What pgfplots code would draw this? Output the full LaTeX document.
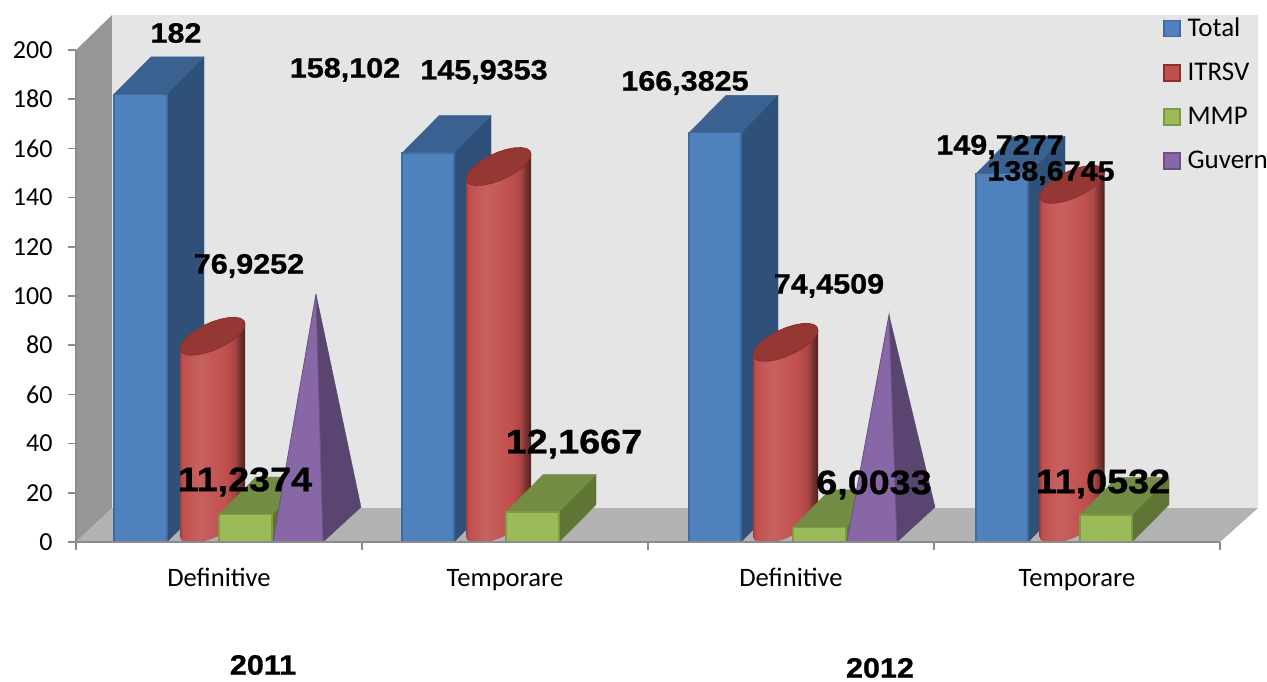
\documentclass[border=0pt]{standalone}
\usepackage{fontspec}
\usepackage{pgfplots}
\usepackage{pgfplotstable}
\pgfplotsset{compat=1.18}
\setmainfont{Carlito}
\newfontfamily\lab{Liberation Sans}[BoldFeatures={FakeBold=0.8}]
\definecolor{wallback}{HTML}{E5E5E5}
\definecolor{wallside}{HTML}{969696}
\definecolor{floorc}{HTML}{B2B2B2}
\definecolor{axisc}{HTML}{8C8C8C}
\definecolor{bf}{HTML}{4F81BD}\definecolor{be}{HTML}{3F6BA0}\definecolor{bs}{HTML}{2F5078}\definecolor{bt}{HTML}{3A6190}
\definecolor{rt}{HTML}{953735}\definecolor{re}{HTML}{8A302E}\definecolor{rf}{HTML}{C0504D}
\definecolor{gf}{HTML}{9BBB59}\definecolor{ge}{HTML}{7D9A45}\definecolor{gs}{HTML}{5F7536}\definecolor{gt}{HTML}{728C43}
\definecolor{pf}{HTML}{8767A6}\definecolor{pe}{HTML}{6A4F88}\definecolor{ps}{HTML}{5A4570}
\pgfdeclarehorizontalshading{cyl}{100bp}{color(0bp)=(rf!80!black);color(25bp)=(rf!80!black);color(27bp)=(rf);color(40bp)=(rf!90!white);color(60bp)=(rf);color(67bp)=(rf!88!black);color(71bp)=(rf!62!black);color(75bp)=(rf!42!black);color(100bp)=(rf!42!black)}
% outline of the top disc, offsets in picture pixels
\pgfplotstableread{
dx dy
32.5 12.2
31.4 15.6
28.1 17.9
23.0 18.9
16.25 18.7
8.4 17.2
0 14.6
-8.4 10.9
-16.25 6.5
-23.0 1.7
-28.1 -3.3
-31.4 -8.0
-32.5 -12.2
-31.4 -15.6
-28.1 -17.9
-23.0 -18.9
-16.25 -18.7
-8.4 -17.2
0 -14.6
8.4 -10.9
16.25 -6.5
23.0 -1.7
28.1 3.3
31.4 8.0
32.5 12.2
}\disc
% outline of the cylinder body: h=1 at the top, h=0 at the ground
\pgfplotstableread{
dx dy h
32.5 12.2 1
-32.5 -12.2 1
-32.5 -12.2 0
-31.4 -15.6 0
-28.1 -17.9 0
-23.0 -18.9 0
-16.25 -18.7 0
-8.4 -17.2 0
0 -14.6 0
8.4 -10.9 0
16.25 -6.5 0
23.0 -1.7 0
28.1 3.3 0
31.4 8.0 0
32.5 12.2 0
}\cylbody
\newcommand{\boxbar}[7]{% left, width, value, front, side, top, edge
  \pgfmathsetmacro{\xa}{#1}\pgfmathsetmacro{\xb}{#1+#2}
  \pgfmathsetmacro{\xc}{#1+#2+37}\pgfmathsetmacro{\xd}{#1+37}
  \pgfmathsetmacro{\yt}{#3+15.2}\def\yb{15.2}
  \addplot[fill=#5,draw=#5,forget plot] coordinates {(\xb,0) (\xc,\yb) (\xc,\yt) (\xb,#3) (\xb,0)};
  \addplot[fill=#6,draw=#6,forget plot] coordinates {(\xa,#3) (\xb,#3) (\xc,\yt) (\xd,\yt) (\xa,#3)};
  \addplot[fill=#4,draw=#7,line width=1.4pt,forget plot] coordinates {(\xa,0) (\xb,0) (\xb,#3) (\xa,#3) (\xa,0)};
}
\newcommand{\cylbar}[2]{% centre, value
  \addplot[shade,shading=cyl,draw=none,forget plot] table[x expr=#1+\thisrow{dx},y expr=\thisrow{h}*#2+(18-1.5*\thisrow{h}+\thisrow{dy})/2.46] {\cylbody};
  \addplot[fill=rt,draw=re,line width=0.8pt,forget plot] table[x expr=#1+\thisrow{dx},y expr=#2+(16.5+\thisrow{dy})/2.46] {\disc};
}
\newcommand{\pyr}[3]{% left, apex x, value
  \pgfmathsetmacro{\xb}{#1+50}\pgfmathsetmacro{\xc}{#1+88}
  \addplot[fill=ps,draw=ps,forget plot] coordinates {(\xb,0) (\xc,14.2) (#2,#3) (\xb,0)};
  \addplot[fill=pf,draw=pe,line width=0.8pt,forget plot] coordinates {(#1,0) (\xb,0) (#2,#3) (#1,0)};
}
\newcommand{\dl}[5]{\node[inner sep=0pt,anchor=center] at (axis cs:#1,#2) {\lab\bfseries\fontsize{#3}{#3}\selectfont\scalebox{#4}[1]{#5}};}
\begin{document}
\begin{tikzpicture}
\useasboundingbox (-76pt,-140pt) rectangle (1191pt,542pt);
\begin{axis}[
  at={(0pt,0pt)},anchor=south west,
  scale only axis,width=1144pt,height=492pt,
  xmin=76,xmax=1220,ymin=0,ymax=200,
  clip=false,axis on top,
  axis x line=bottom,axis y line=left,
  axis line style={draw=axisc,line width=1.6pt,-},
  every tick/.style={draw=axisc,line width=1.6pt},
  tick align=outside,major tick length=8pt,
  xtick={76,362,648,934,1220},xticklabels={},
  ytick={0,20,...,200},
  extra x ticks={219,505,791,1077},
  extra x tick labels={Definitive,Temporare,Definitive,Temporare},
  extra x tick style={major tick length=0pt,tick label style={yshift=-24pt,text height=17pt,text depth=5pt,font=\fontsize{26.6}{30}\selectfont}},
  /pgf/number format/assume math mode=true,
  tick label style={font=\fontsize{26}{30}\selectfont,text=black},
  yticklabel style={xshift=-12pt},
  legend image code/.code={\draw[#1] (0pt,-8pt) rectangle (16pt,8pt);\path (23pt,0pt);},
  legend style={at={(axis cs:1163,213)},anchor=north west,draw=none,fill=none,inner sep=0pt,
    font=\fontsize{27}{32}\selectfont,row sep=25pt,
    nodes={inner sep=0pt,anchor=west}},
]
\addlegendimage{fill=bf,draw=be,line width=1.4pt}
\addlegendimage{fill=rf,draw=re,line width=1.4pt}
\addlegendimage{fill=gf,draw=ge,line width=1.4pt}
\addlegendimage{fill=pf,draw=pe,line width=1.4pt}
% walls and floor
\addplot[fill=wallback,draw=none,forget plot] coordinates {(112,13.8) (1258,13.8) (1258,214.2) (112,214.2) (112,13.8)};
\addplot[fill=wallside,draw=none,forget plot] coordinates {(76,0) (112,13.8) (112,214.2) (76,200) (76,0)};
\addplot[fill=floorc,draw=none,forget plot] coordinates {(76,0) (112,13.8) (1258,13.8) (1220,0) (76,0)};
% 2011 Definitive
\boxbar{114}{53}{182}{bf}{bs}{bt}{be}
\cylbar{212.5}{76.9252}
\boxbar{219}{53}{11.2374}{gf}{gs}{gt}{ge}
\pyr{273}{316}{100.8}
% 2011 Temporare
\boxbar{402}{52}{158.102}{bf}{bs}{bt}{be}
\cylbar{498.5}{145.9353}
\boxbar{506}{53}{12.1667}{gf}{gs}{gt}{ge}
% 2012 Definitive
\boxbar{689}{52}{166.3825}{bf}{bs}{bt}{be}
\cylbar{785.5}{74.4509}
\boxbar{793}{53}{6.0033}{gf}{gs}{gt}{ge}
\pyr{847}{889}{92.3}
% 2012 Temporare
\boxbar{976}{52}{149.7277}{bf}{bs}{bt}{be}
\cylbar{1072}{138.6745}
\boxbar{1080}{52}{11.0532}{gf}{gs}{gt}{ge}
\legend{Total,ITRSV,MMP,Guvern}
\dl{176}{206.9}{28}{1.09}{182}
\dl{345}{191.9}{28}{1.09}{158,102}
\dl{484}{191.1}{28}{1.09}{145,9353}
\dl{685}{186.6}{28}{1.09}{166,3825}
\dl{1000}{160.6}{28}{1.09}{149,7277}
\dl{1051}{150}{28}{1.09}{138,6745}
\dl{249}{112.2}{28}{1.09}{76,9252}
\dl{829}{104.1}{28}{1.09}{74,4509}
\dl{245}{24.4}{34}{1.11}{11,2374}
\dl{574}{39.8}{34}{1.11}{12,1667}
\dl{874}{23.2}{34}{1.11}{6,0033}
\dl{1103}{23.6}{34}{1.11}{11,0532}
\dl{263}{-50}{28}{1.09}{2011}
\dl{880}{-51.2}{28}{1.09}{2012}
\end{axis}
\end{tikzpicture}
\end{document}
